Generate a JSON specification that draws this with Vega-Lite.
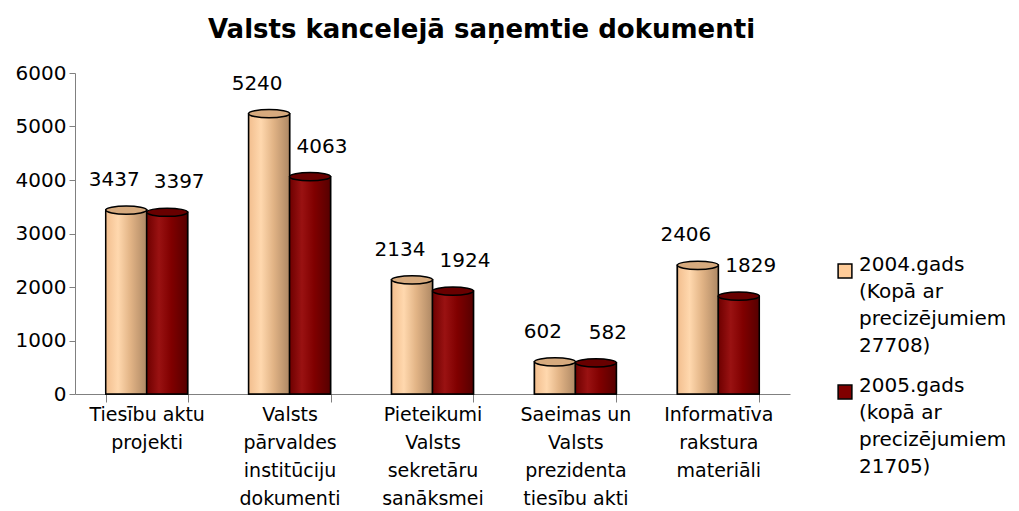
{
  "$schema": "https://vega.github.io/schema/vega-lite/v6.json",
  "width": 715,
  "height": 321,
  "padding": {"left": 15, "top": 17, "right": 5, "bottom": 5},
  "background": "white",
  "title": {"text": "Valsts kancelejā saņemtie dokumenti", "fontSize": 26, "font": "DejaVu Sans", "fontWeight": "bold", "anchor": "middle", "frame": "group", "dx": 49, "offset": 20, "color": "black"},
  "config": {
    "view": {"stroke": null},
    "style": {"guide-label": {"lineHeight": 27}}
  },
  "data": {"values": [
    {"cat": "Tiesību aktu|projekti", "year": "2004", "value": 3437},
    {"cat": "Tiesību aktu|projekti", "year": "2005", "value": 3397},
    {"cat": "Valsts|pārvaldes|institūciju|dokumenti", "year": "2004", "value": 5240},
    {"cat": "Valsts|pārvaldes|institūciju|dokumenti", "year": "2005", "value": 4063},
    {"cat": "Pieteikumi|Valsts|sekretāru|sanāksmei", "year": "2004", "value": 2134},
    {"cat": "Pieteikumi|Valsts|sekretāru|sanāksmei", "year": "2005", "value": 1924},
    {"cat": "Saeimas un|Valsts|prezidenta|tiesību akti", "year": "2004", "value": 602},
    {"cat": "Saeimas un|Valsts|prezidenta|tiesību akti", "year": "2005", "value": 582},
    {"cat": "Informatīva|rakstura|materiāli", "year": "2004", "value": 2406},
    {"cat": "Informatīva|rakstura|materiāli", "year": "2005", "value": 1829}
  ]},
  "encoding": {
    "x": {"field": "cat", "type": "nominal", "sort": null,
      "scale": {"paddingInner": 0.427, "paddingOuter": 0.215},
      "axis": {"title": null, "labelAngle": 0, "labelExpr": "split(datum.label, '|')", "labelFont": "DejaVu Sans", "labelFontSize": 19, "labelColor": "black", "labelLineHeight": 28, "labelPadding": 3, "labelBaseline": "top", "tickBand": "extent", "tickSize": 8, "tickColor": "#808080", "domainColor": "#808080", "labelLimit": 200}},
    "xOffset": {"field": "year", "type": "nominal"},
    "y": {"field": "value", "type": "quantitative", "scale": {"domain": [0, 6000]},
      "axis": {"title": null, "grid": false, "format": "d", "values": [0, 1000, 2000, 3000, 4000, 5000, 6000], "labelFont": "DejaVu Sans", "labelFontSize": 20, "labelColor": "black", "tickSize": 6, "tickColor": "#808080", "domainColor": "#808080", "labelPadding": 3}}
  },
  "layer": [
    {"mark": {"type": "bar", "stroke": "black", "strokeWidth": 1.5},
      "encoding": {"color": {"field": "year", "type": "nominal",
        "scale": {"domain": ["2004", "2005"], "range": ["#FFCC99", "#800000"]},
        "legend": {"orient": "none", "legendX": 760, "legendY": 188, "title": null,
          "symbolType": "square", "symbolSize": 190, "symbolStrokeColor": "black", "symbolStrokeWidth": 1.5,
          "labelFont": "DejaVu Sans", "labelFontSize": 20, "labelColor": "black", "labelLimit": 300, "labelBaseline": "alphabetic",
          "rowPadding": 20, "labelOffset": 4,
          "labelExpr": "datum.value == '2004' ? ['2004.gads', '(Kopā ar', 'precizējumiem', '27708)'] : ['2005.gads', '(kopā ar', 'precizējumiem', '21705)']"}}}},
    {"transform": [{"filter": "datum.year == '2004'"}],
      "mark": {"type": "bar", "stroke": "black", "strokeWidth": 1.5,
        "fill": {"gradient": "linear", "x1": 0, "y1": 0, "x2": 1, "y2": 0, "stops": [
          {"offset": 0, "color": "#F2BE8E"}, {"offset": 0.3, "color": "#FFD8AE"}, {"offset": 0.6, "color": "#E2B486"}, {"offset": 1, "color": "#AE8864"}]}}},
    {"transform": [{"filter": "datum.year == '2005'"}],
      "mark": {"type": "bar", "stroke": "black", "strokeWidth": 1.5,
        "fill": {"gradient": "linear", "x1": 0, "y1": 0, "x2": 1, "y2": 0, "stops": [
          {"offset": 0, "color": "#6E0000"}, {"offset": 0.3, "color": "#9A1212"}, {"offset": 0.6, "color": "#800000"}, {"offset": 1, "color": "#560000"}]}}},
    {"transform": [{"filter": "datum.year == '2004'"}],
      "mark": {"type": "point", "shape": "M -1 0 A 1 0.2 0 1 0 1 0 A 1 0.2 0 1 0 -1 0 Z", "size": 1681, "filled": true, "fill": "#D6AA7E", "stroke": "black", "strokeWidth": 1.5, "opacity": 1}},
    {"transform": [{"filter": "datum.year == '2005'"}],
      "mark": {"type": "point", "shape": "M -1 0 A 1 0.2 0 1 0 1 0 A 1 0.2 0 1 0 -1 0 Z", "size": 1681, "filled": true, "fill": "#680000", "stroke": "black", "strokeWidth": 1.5, "opacity": 1}},
    {"transform": [{"filter": "datum.year == '2004'"}],
      "mark": {"type": "text", "dy": -30, "dx": -12, "font": "DejaVu Sans", "fontSize": 20, "color": "black"},
      "encoding": {"text": {"field": "value", "type": "quantitative", "format": "d"}}},
    {"transform": [{"filter": "datum.year == '2005'"}],
      "mark": {"type": "text", "dy": -30, "dx": 12, "font": "DejaVu Sans", "fontSize": 20, "color": "black"},
      "encoding": {"text": {"field": "value", "type": "quantitative", "format": "d"}}}
  ]
}
